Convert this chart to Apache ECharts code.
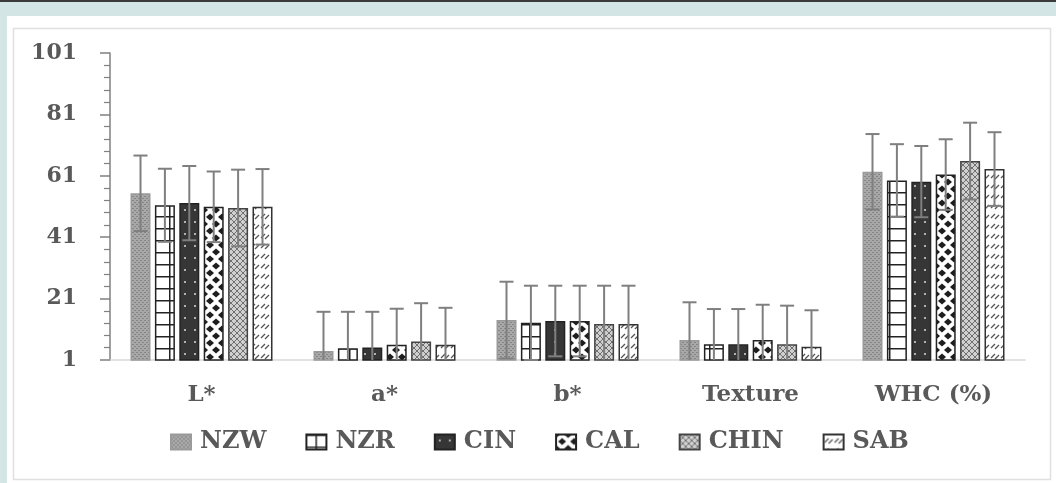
<!DOCTYPE html>
<html>
<head>
<meta charset="utf-8">
<script src="https://cdn.jsdelivr.net/npm/echarts@6/dist/echarts.min.js"></script>
<style>
  html, body { margin: 0; padding: 0; background: #d3e5e4; }
  #chart { width: 1056px; height: 483px; }
</style>
</head>
<body>
<div id="chart"></div>
<script>
// 类别和数据
const categories = ["L*", "a*", "b*", "Texture", "WHC (%)"];
const seriesNames = ["NZW", "NZR", "CIN", "CAL", "CHIN", "SAB"];
const yTicks = [1, 21, 41, 61, 81, 101];

// 平均值 (每个品种按类别)
const nzwMean = [55.3, 3.9, 14.0, 7.5, 62.3];
const nzrMean = [51.4, 4.8, 13.1, 6.1, 59.5];
const cinMean = [52.1, 5.1, 13.7, 6.1, 59.1];
const calMean = [50.9, 6.0, 13.7, 7.5, 61.4];
const chinMean = [50.5, 7.0, 12.7, 6.1, 65.8];
const sabMean = [50.9, 6.0, 12.7, 5.3, 63.2];

// 标准差
const nzwSd = [12.3, 12.8, 12.5, 12.3, 12.3];
const nzrSd = [11.9, 11.9, 12.1, 11.5, 11.8];
const cinSd = [12.1, 11.6, 11.5, 11.5, 11.6];
const calSd = [11.5, 11.7, 11.5, 11.5, 11.5];
const chinSd = [12.5, 12.5, 12.5, 12.6, 12.5];
const sabSd = [12.3, 12.0, 12.5, 11.9, 12.0];

const means = [nzwMean, nzrMean, cinMean, calMean, chinMean, sabMean];
const sds = [nzwSd, nzrSd, cinSd, calSd, chinSd, sabSd];

const BAR_W = 20;
const BAR_GAP = 0.22;
const TEXT = "#595959";
const FONT = "DejaVu Serif";

// 画填充图案
function makePattern(w, h, draw) {
  const c = document.createElement("canvas");
  c.width = w;
  c.height = h;
  draw(c.getContext("2d"));
  return { image: c, repeat: "repeat" };
}

const patterns = [
  // NZW 灰色细点
  makePattern(4, 4, g => {
    g.fillStyle = "#a8a8a8"; g.fillRect(0, 0, 4, 4);
    g.fillStyle = "#858585";
    g.fillRect(0, 0, 2, 1); g.fillRect(2, 2, 2, 1);
  }),
  // NZR 方格
  makePattern(20, 12, g => {
    g.fillStyle = "#fff"; g.fillRect(0, 0, 20, 12);
    g.fillStyle = "#222";
    g.fillRect(0, 0, 20, 1.5); g.fillRect(9, 0, 1.5, 12);
  }),
  // CIN 深色白点
  makePattern(10, 12, g => {
    g.fillStyle = "#363636"; g.fillRect(0, 0, 10, 12);
    g.fillStyle = "#b0b0b0"; g.fillRect(4, 5, 2, 2);
  }),
  // CAL 菱形
  makePattern(12, 14, g => {
    g.fillStyle = "#fff"; g.fillRect(0, 0, 12, 14);
    g.fillStyle = "#1e1e1e";
    const d = (x, y) => {
      g.beginPath();
      g.moveTo(x, y - 3.5); g.lineTo(x + 4, y); g.lineTo(x, y + 3.5); g.lineTo(x - 4, y);
      g.closePath(); g.fill();
    };
    d(6, 7); d(0, 0); d(12, 0); d(0, 14); d(12, 14);
  }),
  // CHIN 网纹
  makePattern(6, 6, g => {
    g.fillStyle = "#d0d0d0"; g.fillRect(0, 0, 6, 6);
    g.strokeStyle = "#707070"; g.lineWidth = 1;
    g.beginPath();
    g.moveTo(0, 0); g.lineTo(6, 6);
    g.moveTo(6, 0); g.lineTo(0, 6);
    g.stroke();
  }),
  // SAB 斜短线
  makePattern(10, 10, g => {
    g.fillStyle = "#fff"; g.fillRect(0, 0, 10, 10);
    g.strokeStyle = "#555"; g.lineWidth = 1.3;
    g.beginPath();
    g.moveTo(1, 8); g.lineTo(5, 4);
    g.moveTo(5, 9); g.lineTo(9, 5);
    g.stroke();
  })
];

const borders = ["#9a9a9a", "#222", "#222", "#222", "#444", "#333"];

// 误差线数据: [类别, 品种, 均值, 标准差]
const errData = [];
means.forEach((arr, s) => {
  arr.forEach((v, c) => errData.push([c, s, v, sds[s][c]]));
});

const chart = echarts.init(document.getElementById("chart"));

const barSeries = seriesNames.map((name, i) => ({
  name: name,
  type: "bar",
  data: means[i],
  barWidth: BAR_W,
  barGap: BAR_GAP * 100 + "%",
  itemStyle: {
    color: patterns[i],
    borderColor: borders[i],
    borderWidth: 1.5
  }
}));

const n = seriesNames.length;
const total = n * BAR_W + (n - 1) * BAR_W * BAR_GAP;
const yMin = yTicks[0];

const errorSeries = {
  type: "custom",
  name: "err",
  z: 10,
  silent: true,
  data: errData,
  encode: { x: 0, y: 2 },
  renderItem(params, api) {
    const c = api.value(0);
    const s = api.value(1);
    const m = api.value(2);
    const sd = api.value(3);
    const off = -total / 2 + s * BAR_W * (1 + BAR_GAP) + BAR_W / 2;
    const hi = api.coord([c, m + sd]);
    // 下端不低于坐标轴
    const clipped = m - sd < yMin;
    const lo = api.coord([c, clipped ? yMin : m - sd]);
    const x = hi[0] + off;
    const cap = 7;
    const style = { stroke: "#7f7f7f", lineWidth: 2 };
    const children = [
      { type: "line", shape: { x1: x, y1: hi[1], x2: x, y2: lo[1] }, style },
      { type: "line", shape: { x1: x - cap, y1: hi[1], x2: x + cap, y2: hi[1] }, style }
    ];
    if (!clipped) {
      children.push({ type: "line", shape: { x1: x - cap, y1: lo[1], x2: x + cap, y2: lo[1] }, style });
    }
    return { type: "group", children };
  }
};

chart.setOption({
  animation: false,
  textStyle: { fontFamily: FONT },
  graphic: [
    { type: "rect", shape: { x: 0, y: 0, width: 1056, height: 2 }, style: { fill: "#3a3a3a" }, z: -10 },
    { type: "rect", shape: { x: 7, y: 16, width: 1049, height: 467 }, style: { fill: "#fff" }, z: -10 },
    { type: "rect", shape: { x: 13.5, y: 28.5, width: 1037, height: 451 }, style: { fill: "#fff", stroke: "#e0e0e0", lineWidth: 1.5 }, z: -9 }
  ],
  grid: { left: 110, right: 31, top: 53, bottom: 123 },
  legend: {
    data: seriesNames,
    top: 425,
    left: 165,
    itemWidth: 20,
    itemHeight: 15,
    itemGap: 39,
    icon: "rect",
    textStyle: { color: TEXT, fontFamily: FONT, fontWeight: "bold", fontSize: 24, padding: [0, 0, 0, 4] }
  },
  xAxis: {
    type: "category",
    data: categories,
    axisLine: { lineStyle: { color: "#d9d9d9", width: 1.5 } },
    axisTick: { show: false },
    axisLabel: { color: TEXT, fontFamily: FONT, fontWeight: "bold", fontSize: 23, margin: 24 }
  },
  yAxis: {
    type: "value",
    min: yMin,
    max: yTicks[yTicks.length - 1],
    interval: 20,
    axisLine: { show: true, lineStyle: { color: "#808080", width: 1.5 } },
    axisTick: { show: true, length: 10, lineStyle: { color: "#808080", width: 1.5 } },
    minorTick: { show: true, splitNumber: 5, length: 6, lineStyle: { color: "#808080", width: 1.2 } },
    splitLine: { show: false },
    axisLabel: { color: TEXT, fontFamily: FONT, fontWeight: "bold", fontSize: 22, margin: 33 }
  },
  series: barSeries.concat([errorSeries])
});
</script>
</body>
</html>
